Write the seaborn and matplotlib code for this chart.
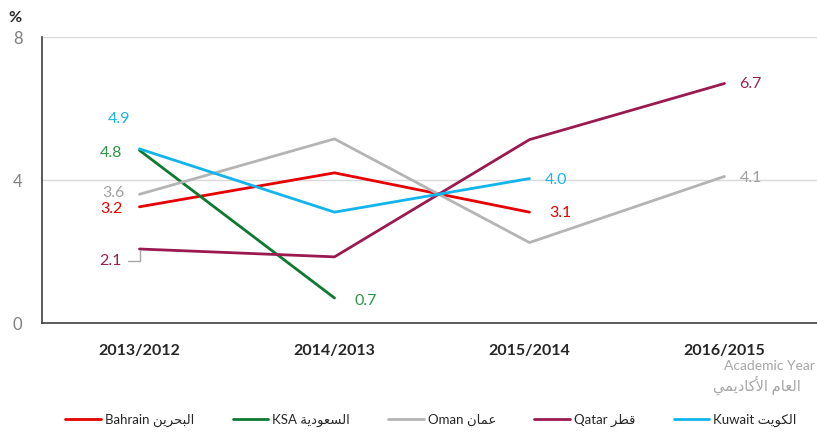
import numpy as np
import pandas as pd
import seaborn as sns
import matplotlib.pyplot as plt

years = ['2013/2012', '2014/2013', '2015/2014', '2016/2015']
bahrain = [3.25, 4.2, 3.1, np.nan]
ksa = [4.83, 0.7, np.nan, np.nan]
oman = [3.6, 5.15, 2.25, 4.1]
qatar = [2.07, 1.85, 5.13, 6.7]
kuwait = [4.87, 3.1, 4.04, np.nan]

# arabic letters -> (isolated, final, initial, medial) presentation forms
FORMS = {
    'ا': ('\uFE8D', '\uFE8E', None, None),
    'أ': ('\uFE83', '\uFE84', None, None),
    'ب': ('\uFE8F', '\uFE90', '\uFE91', '\uFE92'),
    'ة': ('\uFE93', '\uFE94', None, None),
    'ت': ('\uFE95', '\uFE96', '\uFE97', '\uFE98'),
    'ح': ('\uFEA1', '\uFEA2', '\uFEA3', '\uFEA4'),
    'د': ('\uFEA9', '\uFEAA', None, None),
    'ر': ('\uFEAD', '\uFEAE', None, None),
    'س': ('\uFEB1', '\uFEB2', '\uFEB3', '\uFEB4'),
    'ط': ('\uFEC1', '\uFEC2', '\uFEC3', '\uFEC4'),
    'ع': ('\uFEC9', '\uFECA', '\uFECB', '\uFECC'),
    'ق': ('\uFED5', '\uFED6', '\uFED7', '\uFED8'),
    'ك': ('\uFED9', '\uFEDA', '\uFEDB', '\uFEDC'),
    'ل': ('\uFEDD', '\uFEDE', '\uFEDF', '\uFEE0'),
    'م': ('\uFEE1', '\uFEE2', '\uFEE3', '\uFEE4'),
    'ن': ('\uFEE5', '\uFEE6', '\uFEE7', '\uFEE8'),
    'و': ('\uFEED', '\uFEEE', None, None),
    'ي': ('\uFEF1', '\uFEF2', '\uFEF3', '\uFEF4'),
    'لأ': ('\uFEF7', '\uFEF8', None, None),
}


def shape_word(word):
    chars = [c for c in word if c != '\u064F']
    units = []
    i = 0
    while i < len(chars):
        if chars[i] == 'ل' and i + 1 < len(chars) and chars[i + 1] == 'أ':
            units.append('لأ')
            i += 2
        else:
            units.append(chars[i])
            i += 1
    res = []
    for k, u in enumerate(units):
        f = FORMS[u]
        prev = k > 0 and FORMS[units[k - 1]][2] is not None
        nxt = k + 1 < len(units) and f[2] is not None
        if prev and nxt:
            g = f[3]
        elif prev:
            g = f[1]
        elif nxt:
            g = f[2]
        else:
            g = f[0]
        res.append(g)
    return ''.join(reversed(res))


def ar(text):
    return ' '.join(shape_word(w) for w in reversed(text.split(' ')))


names = ['Bahrain ' + ar('البحرين'), 'KSA ' + ar('السعودية'), 'Oman ' + ar('عُمان'),
         'Qatar ' + ar('قطر'), 'Kuwait ' + ar('الكويت')]
series = [bahrain, ksa, oman, qatar, kuwait]
colors = ['#E60000', '#0B7A32', '#B4B4B4', '#9A1A50', '#12B4EC']
label_colors = ['#E60000', '#2E9446', '#A0A0A0', '#9A2052', '#1AB4EA']

rows = []
for name, vals in zip(names, series):
    for i, v in enumerate(vals):
        if not np.isnan(v):
            rows.append({'x': i, 'value': v, 'country': name})
df = pd.DataFrame(rows)

sns.set_style('white')
plt.rcParams['font.family'] = ['Lato', 'DejaVu Sans']

fig = plt.figure(figsize=(8.17, 4.36), dpi=100)
ax = fig.add_axes([42 / 817, 1 - 323 / 436, 780 / 817, 286 / 436])
sns.lineplot(data=df, x='x', y='value', hue='country', palette=dict(zip(names, colors)),
             linewidth=2.0, sort=False, ax=ax, legend=True)

ax.set_xlim(-0.5, 3.5)
ax.set_ylim(0, 8)
ax.set_yticks([0, 4, 8])
ax.set_yticklabels(['0', '4', '8'], color='#808080', fontsize=12)
ax.set_xticks(range(4))
ax.set_xticklabels(years, fontweight='bold', fontsize=11.5, color='#262626')
ax.set_xticks([-0.5, 0.5, 1.5, 2.5], minor=True)
ax.tick_params(axis='x', which='major', length=0, pad=15)
ax.tick_params(axis='x', which='minor', length=5, width=1, color='#404040', direction='out')
ax.tick_params(axis='y', length=0, pad=14)
ax.grid(axis='y', color='#D9D9D9', linewidth=1)
ax.set_axisbelow(True)
ax.set_xlabel('')
ax.set_ylabel('')
for s in ['top', 'right']:
    ax.spines[s].set_visible(False)
for s in ['left', 'bottom']:
    ax.spines[s].set_color('#404040')
    ax.spines[s].set_linewidth(1.2)

# data labels: (series, index, text, offset in pixels)
labels = [
    (4, 0, '4.9', (-20, 30)),
    (1, 0, '4.8', (-29, -3)),
    (2, 0, '3.6', (-26, 1)),
    (0, 0, '3.2', (-28, -2)),
    (1, 1, '0.7', (31, -3)),
    (4, 2, '4.0', (27, -1)),
    (0, 2, '3.1', (31, -1)),
    (3, 3, '6.7', (26, -1)),
    (2, 3, '4.1', (26, -2)),
]
for si, xi, txt, off in labels:
    ax.annotate(txt, xy=(xi, series[si][xi]), xytext=off, textcoords='offset pixels',
                ha='center', va='center', fontsize=11.5, color=label_colors[si])
ax.annotate('2.1', xy=(0, qatar[0]), xytext=(-29, -12), textcoords='offset pixels',
            ha='center', va='center', fontsize=11.5, color=label_colors[3],
            arrowprops=dict(arrowstyle='-', color='#A6A6A6', lw=1,
                            connectionstyle='angle,angleA=0,angleB=90,rad=0',
                            shrinkA=2, shrinkB=1))

fig.text(15 / 817, 1 - 18 / 436, '%', fontweight='bold', fontsize=11.5, ha='center',
         va='center', color='#262626')
fig.text(815 / 817, 1 - 366 / 436, 'Academic Year', fontsize=10, ha='right',
         va='center', color='#A6A6A6')
fig.text(757 / 817, 1 - 385 / 436, ar('العام الأكاديمي'), fontsize=10.5, ha='center',
         va='center', color='#A6A6A6')

handles, hlabels = ax.get_legend_handles_labels()
ax.get_legend().remove()
fig.legend(handles, hlabels, loc='center', bbox_to_anchor=(431 / 817, 1 - 420 / 436),
           ncol=5, frameon=False, fontsize=9.5, handlelength=2.7, handletextpad=0.3,
           columnspacing=2.9)

fig.savefig('out.png', dpi=100)
